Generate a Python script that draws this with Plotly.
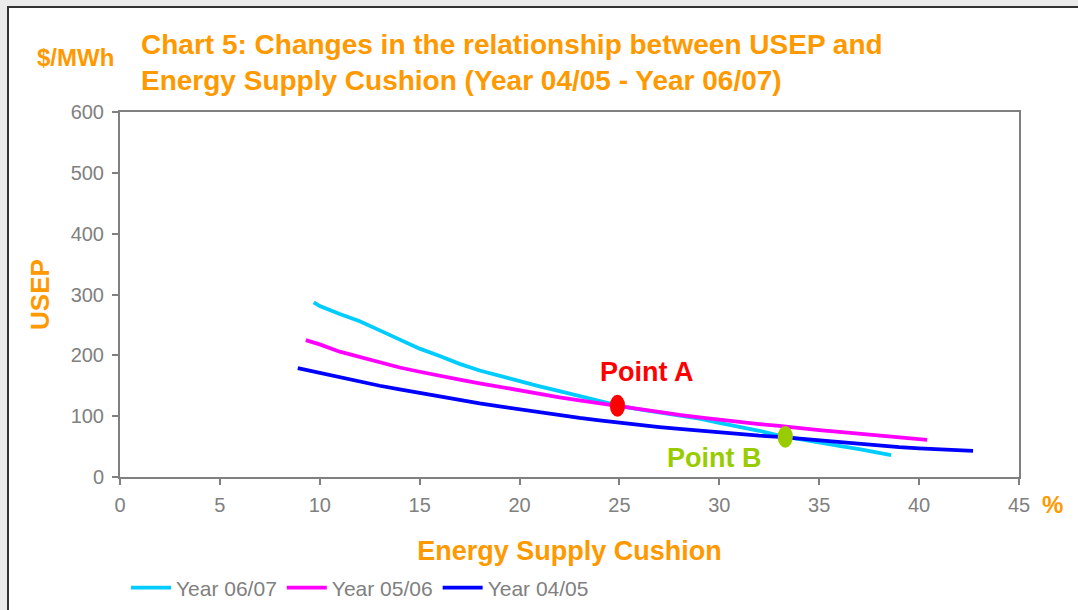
import plotly.graph_objects as go

# ---------------- data ----------------
x_0607 = [9.7, 10, 11, 12, 13, 14, 15, 16, 17, 18, 19, 20, 21, 22, 23, 24, 25, 26, 27, 28,
          29, 30, 31, 32, 33, 34, 35, 36, 37, 38, 38.6]
y_0607 = [287, 281, 268, 256, 241, 226, 211, 199, 186, 175, 166, 158, 149, 141, 133, 126, 117,
          111, 106, 101, 96, 89, 83, 76, 68, 62, 57, 51, 46, 40, 36]

x_0506 = [9.3, 10, 11, 12, 13, 14, 15, 16, 17, 18, 19, 20, 21, 22, 23, 24, 25, 26, 27, 28,
          29, 30, 31, 32, 33, 34, 35, 36, 37, 38, 39, 40, 40.4]
y_0506 = [225, 218, 206, 197, 188, 180, 173, 166, 160, 154, 148, 142, 136, 131, 126, 121, 116,
          111, 106, 102, 98, 94, 91, 87, 84, 80, 77, 74, 71, 69, 66, 63, 61]

x_0405 = [8.9, 10, 11, 12, 13, 14, 15, 16, 17, 18, 19, 20, 21, 22, 23, 24, 25, 26, 27, 28,
          29, 30, 31, 32, 33, 34, 35, 36, 37, 38, 39, 40, 41, 42, 42.7]
y_0405 = [179, 171, 163, 157, 150, 144, 138, 133, 127, 121, 116, 111, 107, 102, 97, 93, 89,
          86, 82, 79, 76, 73, 71, 68, 66, 63, 60, 57, 54, 51, 49, 47, 45, 44, 43]

series_names = ["Year 06/07", "Year 05/06", "Year 04/05"]
series_colors = ["#00CCFF", "#FF00FF", "#0000FF"]

point_labels = ["Point A", "Point B"]
point_x = [24.9, 33.3]
point_y = [117, 66]
point_colors = ["#FF0000", "#99CC00"]

x_ticks = [0, 5, 10, 15, 20, 25, 30, 35, 40, 45]
y_ticks = [0, 100, 200, 300, 400, 500, 600]

# ---------------- layout constants ----------------
W, H = 1078, 610
ML, MR, MT, MB = 120, 59, 112, 133
PW, PH = W - ML - MR, H - MT - MB
ORANGE = "#FF9900"
GREY = "#808080"
FONT = "Arial, Liberation Sans, sans-serif"


def px_x(px):
    return (px - ML) / PW


def px_y(py):
    return (H - MB - py) / PH


fig = go.Figure()
for xs, ys, name, col in zip([x_0607, x_0506, x_0405], [y_0607, y_0506, y_0405],
                             series_names, series_colors):
    fig.add_trace(go.Scatter(x=xs, y=ys, mode="lines", name=name,
                             line=dict(color=col, width=3.8)))

shapes = [
    # page frame
    dict(type="rect", xref="paper", yref="paper", x0=px_x(8), x1=px_x(W + 10),
         y0=px_y(H + 10), y1=px_y(7), fillcolor="white",
         line=dict(color="#333333", width=2), layer="below"),
]
annotations = []
for lab, px_, py_, col, xs_, ys_ in zip(point_labels, point_x, point_y, point_colors,
                                        [30, -71], [34, -21]):
    shapes.append(dict(type="circle", xref="x", yref="y",
                       x0=px_ - 0.38, x1=px_ + 0.38, y0=py_ - 18, y1=py_ + 18,
                       fillcolor=col, line=dict(color=col, width=0), layer="above"))
    annotations.append(dict(x=px_, y=py_, xref="x", yref="y", text=lab, showarrow=False,
                            xshift=xs_, yshift=ys_,
                            font=dict(family=FONT, size=27, color=col, weight="bold")))

annotations += [
    dict(x=px_x(75), y=px_y(57), xref="paper", yref="paper", text="$/MWh", showarrow=False,
         xanchor="center", yanchor="middle",
         font=dict(family=FONT, size=24, color=ORANGE, weight="bold")),
    dict(x=px_x(1052), y=px_y(505), xref="paper", yref="paper", text="%", showarrow=False,
         xanchor="center", yanchor="middle",
         font=dict(family=FONT, size=24, color=ORANGE, weight="bold")),
]

fig.update_layout(
    width=W, height=H,
    margin=dict(l=ML, r=MR, t=MT, b=MB, autoexpand=False),
    paper_bgcolor="#EBEBEB",
    plot_bgcolor="white",
    font=dict(family=FONT, color=GREY, size=20),
    title=dict(text="Chart 5: Changes in the relationship between USEP and<br>"
                    "Energy Supply Cushion (Year 04/05 - Year 06/07)",
               x=141 / W, xref="container", xanchor="left",
               y=1 - 54 / H, yref="container", yanchor="top",
               font=dict(family=FONT, size=28, color=ORANGE, weight="bold")),
    xaxis=dict(range=[0, 45], tickvals=x_ticks, showgrid=False, zeroline=False,
               showline=True, linecolor=GREY, linewidth=2, mirror=True,
               ticks="outside", ticklen=6, tickcolor=GREY, tickwidth=1.5,
               tickfont=dict(size=20, color=GREY), ticklabelstandoff=3, automargin=False,
               title=dict(text="Energy Supply Cushion", standoff=26,
                          font=dict(family=FONT, size=27, color=ORANGE, weight="bold"))),
    yaxis=dict(range=[0, 600], tickvals=y_ticks, showgrid=False, zeroline=False,
               showline=True, linecolor=GREY, linewidth=2, mirror=True,
               ticks="outside", ticklen=6, tickcolor=GREY, tickwidth=1.5,
               tickfont=dict(size=20, color=GREY), ticklabelstandoff=4, automargin=False,
               title=dict(text="USEP", standoff=14,
                          font=dict(family=FONT, size=26, color=ORANGE, weight="bold"))),
    legend=dict(orientation="h", x=px_x(126), xanchor="left", y=px_y(588), yanchor="middle",
                bgcolor="rgba(0,0,0,0)", font=dict(size=21, color=GREY),
                itemwidth=40, tracegroupgap=0),
    shapes=shapes,
    annotations=annotations,
    showlegend=True,
)

fig.write_html("out.html", config={"displayModeBar": False},
               post_script="document.body.style.margin='0';document.body.style.overflow='hidden';")
